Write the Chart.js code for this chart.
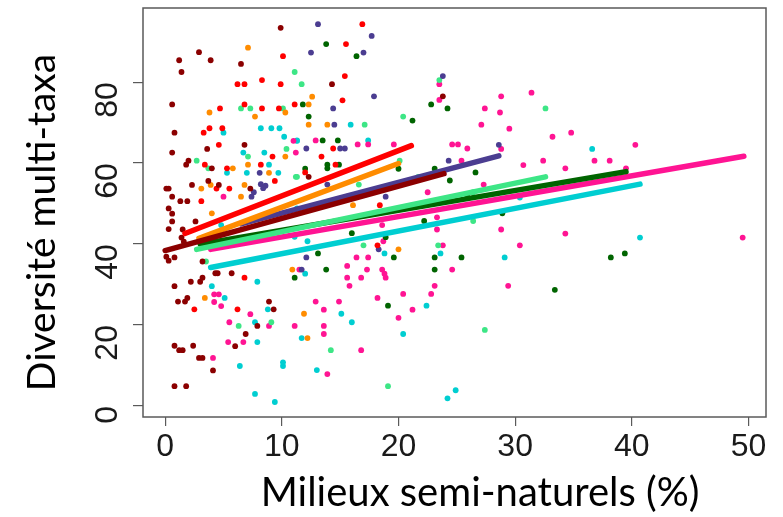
<!DOCTYPE html>
<html>
<head>
<meta charset="utf-8">
<script src="https://cdn.jsdelivr.net/npm/chart.js@4.4.1/dist/chart.umd.min.js"></script>
<style>
  body { margin: 0; background: #fff; }
</style>
</head>
<body>
<canvas id="plot" width="783" height="517"></canvas>
<script>
// axis ticks
const xTicks = [0, 10, 20, 30, 40, 50];
const yTicks = [0, 20, 40, 60, 80];

// one group of points per taxon (x = % semi-natural, y = diversity)
const darkredX = [9.9,2.9,1.2,3.9,1.4,6.5,0.6,0.8,6.8,3.6,0.6,2.0,1.8,4.0,3.7,4.6,2.3,7.3,0.1,0.3,0.6,1.3,1.9,0.3,0.6,0.6,0.3,1.5,2.6,1.4,1.6,0.1,0.3,0.8,3.2,4.3,4.5,5.7,3.2,3.0,2.2,0.8,1.9,1.7,1.1,8.9,9.3,7.9,6.9,6.0,0.8,1.2,1.5,2.4,2.9,3.2,4.1,0.8,1.8,14.3,12.3,23.8];
const darkredY = [93.4,87.4,85.4,85.4,82.5,84.5,74.5,67.5,64.5,63.5,62.6,60.6,59.6,58.7,55.6,54.6,54.6,53.7,53.7,53.7,51.7,50.6,50.6,48.8,47.5,45.6,43.7,43.6,45.6,41.6,40.6,36.9,35.9,36.7,35.7,32.8,32.8,32.8,31.7,30.7,30.7,29.6,26.7,25.8,25.8,25.8,23.9,19.8,17.8,14.8,14.9,13.8,13.8,14.9,11.9,11.9,8.8,4.9,4.9,79.5,56.6,76.5];

const redX = [10.1,6.2,6.8,8.3,9.9,6.8,4.7,8.3,9.75,11.1,3.3,3.8,4.9,4.6,9.2,3.4,8.2,5.3,9.4,4.4,5.5,3.1,6.8,2.5,6.2,16.9,15.5,15.4,15.2,14.4,13.4,14.6,12.0,18.4,18.2];
const redY = [86.4,79.5,79.5,80.5,79.5,74.5,73.5,73.5,73.5,74.5,67.5,68.6,68.6,64.5,61.6,59.6,59.6,58.7,55.6,53.7,53.7,50.6,31.7,23.9,23.9,94.3,89.4,81.5,75.5,63.6,61.6,59.6,57.7,49.6,39.7];

const orangeX = [7.1,3.8,10.3,7.7,10.3,7.1,5.8,8.9,3.9,6.8,3.1,4.0,3.4,12.6,12.3,12.3,13.9,16.1,20.0,10.9,11.9,12.2,6.5];
const orangeY = [88.5,72.5,72.5,71.5,61.6,59.6,58.7,57.6,54.6,54.6,53.7,47.6,26.7,76.4,74.5,69.5,69.5,49.6,38.7,33.7,22.8,16.8,51.7];

const blueX = [8.1,8.2,8.6,8.4,7.6,13.1,17.7,12.5,17.0,23.8,17.9,14.4,14.5,12.1,15.0,15.4,24.3,13.9,18.9,18.3,12.1,11.7,7.4,28.6];
const blueY = [57.6,54.8,54.4,53.8,52.8,94.3,91.4,87.3,87.3,81.5,76.5,73.5,69.5,63.6,63.6,63.6,60.6,54.7,51.7,38.7,36.7,33.7,51.7,64.5];

const lightGreenX = [11.1,6.5,7.3,10.1,10.4,7.1,2.7,3.7,11.3,3.5,9.1,6.3,11.7,23.5,20.4,17.1,20.1,11.2,21.7,16.6,26.4,26.4,17.0,23.4,27.4,14.2,19.1,32.6];
const lightGreenY = [82.5,73.5,73.5,73.5,63.5,61.6,60.6,58.7,56.6,35.7,20.7,19.8,79.5,80.5,71.5,69.5,60.6,56.6,56.6,54.7,52.8,45.7,39.7,39.7,18.8,13.8,4.9,73.5];

const darkGreenX = [13.8,16.4,11.8,22.8,24.2,12.3,21.2,13.5,14.8,13.9,14.9,13.9,12.0,23.1,20.0,26.6,24.4,15.6,25.9,22.2,16.0,18.9,13.1,19.6,23.1,25.4,13.8,23.1,11.1,19.1,28.9,38.2,39.4,33.4];
const darkGreenY = [89.4,86.4,74.5,74.5,73.5,71.5,70.5,65.6,65.6,59.6,59.6,58.7,58.6,58.6,58.6,57.7,55.7,51.7,51.7,45.7,42.7,41.7,37.7,36.7,36.7,36.7,33.7,33.7,31.7,24.8,47.6,36.7,37.7,28.7];

const pinkX = [11.0,11.2,5.0,4.2,4.6,4.2,4.8,7.3,8.9,5.5,5.4,6.7,4.1,23.5,23.5,27.4,27.1,12.9,17.4,16.5,19.6,24.6,25.1,25.9,25.4,27.3,22.5,23.3,23.3,18.6,18.7,23.8,16.4,17.4,15.6,17.3,11.5,18.6,18.8,18.9,24.6,15.6,16.8,15.8,23.1,22.8,20.4,18.2,12.9,14.9,13.6,21.2,20.0,11.1,13.6,13.6,16.8,13.9,31.4,28.8,28.7,29.5,33.2,34.8,40.3,28.8,32.4,30.7,34.3,36.8,38.1,39.5,28.8,34.3,30.4,49.5,29.4];
const pinkY = [65.5,62.6,51.7,27.6,27.6,25.7,24.7,22.7,19.8,20.7,15.8,15.8,11.9,79.5,75.6,73.5,69.5,65.6,64.6,64.6,64.6,64.6,64.6,63.6,60.6,54.7,52.8,46.6,43.6,44.7,40.7,39.7,36.7,36.7,34.6,33.7,33.7,33.7,32.7,31.7,33.7,31.7,31.7,29.7,29.7,27.7,27.7,26.7,25.8,25.8,23.8,23.8,21.8,19.8,19.8,17.8,13.8,7.9,77.4,76.5,72.5,68.5,66.5,67.5,64.5,63.5,60.6,59.5,58.7,60.6,60.6,58.7,43.6,42.6,39.7,41.6,29.7];

const turquoiseX = [8.2,9.1,9.8,5.0,10.2,11.3,6.7,8.5,8.9,5.3,7.0,9.7,4.8,7.9,4.0,5.1,8.8,7.7,7.9,6.4,10.1,10.1,7.7,9.4,15.9,11.3,17.4,12.2,18.8,23.6,12.0,22.4,15.1,16.0,20.4,11.7,13.0,24.9,24.2,36.6,30.4,40.7,29.1,11.3,11.1];
const turquoiseY = [68.6,68.6,68.6,67.5,66.5,65.5,62.6,62.6,59.6,57.6,57.6,57.6,44.7,30.7,29.6,26.7,23.9,20.7,15.8,9.9,10.8,9.9,3.0,1.0,69.5,65.6,65.6,40.7,37.7,37.7,32.7,24.8,22.8,20.7,17.8,16.8,8.9,3.9,1.9,63.5,51.5,41.6,36.7,48.8,41.8];

// regression lines: start and end of each fit
const fitX0 = [0.0, 1.7, 2.9, 6.5, 2.7, 3.0, 3.9, 3.9];
const fitY0 = [38.4, 42.6, 41.4, 45.0, 38.7, 40.0, 38.7, 34.2];
const fitX1 = [23.9, 21.1, 20.0, 28.6, 32.6, 39.5, 49.6, 40.7];
const fitY1 = [57.4, 64.3, 59.9, 61.8, 56.6, 57.9, 61.7, 54.8];

const colours = ['#8B0000', '#FF0000', '#FF8C00', '#4B3D91', '#3DE686', '#006400', '#FF1493', '#00CED1'];
const groupsX = [darkredX, redX, orangeX, blueX, lightGreenX, darkGreenX, pinkX, turquoiseX];
const groupsY = [darkredY, redY, orangeY, blueY, lightGreenY, darkGreenY, pinkY, turquoiseY];

const datasets = [];
// lines first so they sit on top of the dots
colours.forEach((c, i) => {
  datasets.push({
    type: 'line',
    data: [{x: fitX0[i], y: fitY0[i]}, {x: fitX1[i], y: fitY1[i]}],
    borderColor: c,
    borderWidth: 5.5,
    borderCapStyle: 'round',
    pointRadius: 0,
    fill: false
  });
});
colours.forEach((c, i) => {
  datasets.push({
    type: 'scatter',
    data: groupsX[i].map((x, k) => ({x: x, y: groupsY[i][k]})),
    backgroundColor: c,
    borderWidth: 0,
    pointRadius: 2.9,
    pointHoverRadius: 2.9
  });
});

const boxPlugin = {
  id: 'box',
  beforeDatasetsDraw(chart) {
    const a = chart.chartArea;
    const ctx = chart.ctx;
    ctx.save();
    ctx.strokeStyle = '#5a5a5a';
    ctx.lineWidth = 1.5;
    ctx.strokeRect(a.left, a.top, a.right - a.left, a.bottom - a.top);
    ctx.restore();
  }
};

const tickFont = { family: "'Liberation Sans', Arial, sans-serif", size: 32 };

new Chart(document.getElementById('plot'), {
  type: 'scatter',
  data: { datasets },
  options: {
    responsive: false,
    animation: false,
    layout: { padding: { top: 8, right: 17, left: 0, bottom: 0 } },
    plugins: { legend: { display: false }, tooltip: { enabled: false } },
    scales: {
      x: {
        type: 'linear',
        min: -1.9,
        max: 51.5,
        afterBuildTicks: s => { s.ticks = xTicks.map(v => ({ value: v })); },
        afterFit: s => { s.height = 100; s.paddingLeft = 0; s.paddingRight = 0; },
        grid: { drawOnChartArea: false, drawTicks: true, tickLength: 9, color: '#5a5a5a', lineWidth: 1.2 },
        border: { display: false },
        ticks: { font: tickFont, color: '#1a1a1a', padding: 2, maxRotation: 0 },
        // leading spaces nudge the centred title to the right, as in the original
        title: { display: true, text: '     Milieux semi-naturels (%)', font: { family: 'Lato, sans-serif', size: 40 }, color: '#000', padding: { top: 0, bottom: 0 } }
      },
      y: {
        type: 'linear',
        min: -2.7,
        max: 98.3,
        afterBuildTicks: s => { s.ticks = yTicks.map(v => ({ value: v })); },
        afterFit: s => { s.width = 143; s.paddingTop = 0; s.paddingBottom = 0; },
        grid: { drawOnChartArea: false, drawTicks: true, tickLength: 10, color: '#5a5a5a', lineWidth: 1.2 },
        border: { display: false },
        ticks: { font: tickFont, color: '#1a1a1a', padding: 25, minRotation: 90, maxRotation: 90 },
        title: { display: true, text: 'Diversité multi-taxa  ', font: { family: 'Lato, sans-serif', size: 39 }, color: '#000', padding: { top: 19, bottom: 0 } }
      }
    }
  },
  plugins: [boxPlugin]
});
</script>
</body>
</html>
